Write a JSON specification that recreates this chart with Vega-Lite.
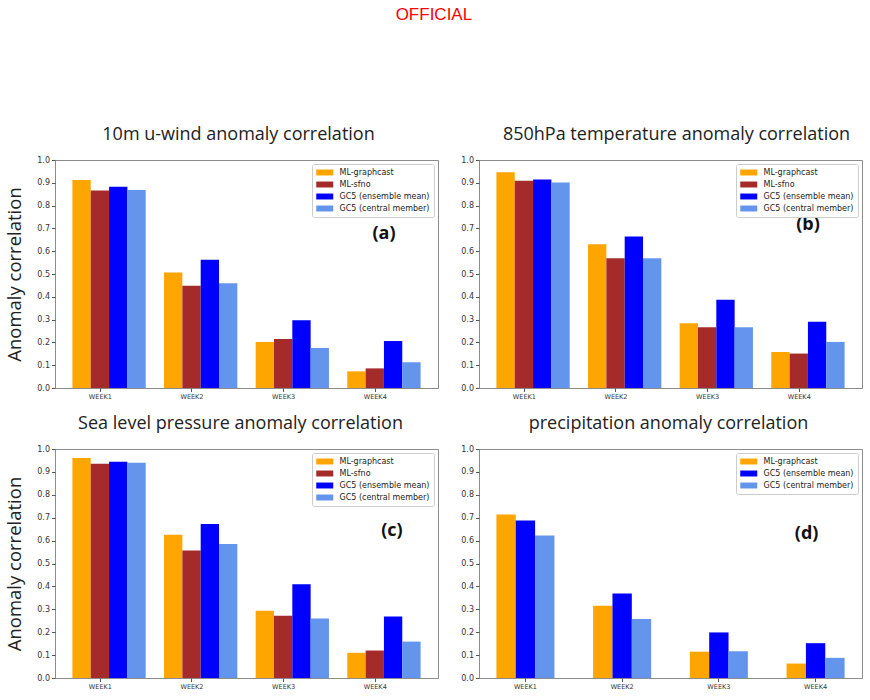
{
  "$schema": "https://vega.github.io/schema/vega-lite/v6.json",
  "background": "white",
  "padding": {"left": 5, "top": 5, "right": 5, "bottom": 5},
  "title": {"text": "OFFICIAL", "color": "#ff0000", "fontSize": 17, "font": "Liberation Sans", "fontWeight": "normal", "anchor": "middle", "frame": "bounds", "offset": 102},
  "datasets": {
    "bars": [
      {"panel": "a", "week": "WEEK1", "model": "ML-graphcast", "value": 0.912},
      {"panel": "a", "week": "WEEK1", "model": "ML-sfno", "value": 0.866},
      {"panel": "a", "week": "WEEK1", "model": "GC5 (ensemble mean)", "value": 0.883},
      {"panel": "a", "week": "WEEK1", "model": "GC5 (central member)", "value": 0.868},
      {"panel": "a", "week": "WEEK2", "model": "ML-graphcast", "value": 0.507},
      {"panel": "a", "week": "WEEK2", "model": "ML-sfno", "value": 0.449},
      {"panel": "a", "week": "WEEK2", "model": "GC5 (ensemble mean)", "value": 0.563},
      {"panel": "a", "week": "WEEK2", "model": "GC5 (central member)", "value": 0.459},
      {"panel": "a", "week": "WEEK3", "model": "ML-graphcast", "value": 0.202},
      {"panel": "a", "week": "WEEK3", "model": "ML-sfno", "value": 0.215},
      {"panel": "a", "week": "WEEK3", "model": "GC5 (ensemble mean)", "value": 0.297},
      {"panel": "a", "week": "WEEK3", "model": "GC5 (central member)", "value": 0.175},
      {"panel": "a", "week": "WEEK4", "model": "ML-graphcast", "value": 0.073},
      {"panel": "a", "week": "WEEK4", "model": "ML-sfno", "value": 0.086},
      {"panel": "a", "week": "WEEK4", "model": "GC5 (ensemble mean)", "value": 0.206},
      {"panel": "a", "week": "WEEK4", "model": "GC5 (central member)", "value": 0.113},
      {"panel": "b", "week": "WEEK1", "model": "ML-graphcast", "value": 0.946},
      {"panel": "b", "week": "WEEK1", "model": "ML-sfno", "value": 0.909},
      {"panel": "b", "week": "WEEK1", "model": "GC5 (ensemble mean)", "value": 0.914},
      {"panel": "b", "week": "WEEK1", "model": "GC5 (central member)", "value": 0.901},
      {"panel": "b", "week": "WEEK2", "model": "ML-graphcast", "value": 0.630},
      {"panel": "b", "week": "WEEK2", "model": "ML-sfno", "value": 0.569},
      {"panel": "b", "week": "WEEK2", "model": "GC5 (ensemble mean)", "value": 0.665},
      {"panel": "b", "week": "WEEK2", "model": "GC5 (central member)", "value": 0.569},
      {"panel": "b", "week": "WEEK3", "model": "ML-graphcast", "value": 0.284},
      {"panel": "b", "week": "WEEK3", "model": "ML-sfno", "value": 0.266},
      {"panel": "b", "week": "WEEK3", "model": "GC5 (ensemble mean)", "value": 0.387},
      {"panel": "b", "week": "WEEK3", "model": "GC5 (central member)", "value": 0.266},
      {"panel": "b", "week": "WEEK4", "model": "ML-graphcast", "value": 0.158},
      {"panel": "b", "week": "WEEK4", "model": "ML-sfno", "value": 0.151},
      {"panel": "b", "week": "WEEK4", "model": "GC5 (ensemble mean)", "value": 0.291},
      {"panel": "b", "week": "WEEK4", "model": "GC5 (central member)", "value": 0.202},
      {"panel": "c", "week": "WEEK1", "model": "ML-graphcast", "value": 0.961},
      {"panel": "c", "week": "WEEK1", "model": "ML-sfno", "value": 0.936},
      {"panel": "c", "week": "WEEK1", "model": "GC5 (ensemble mean)", "value": 0.944},
      {"panel": "c", "week": "WEEK1", "model": "GC5 (central member)", "value": 0.940},
      {"panel": "c", "week": "WEEK2", "model": "ML-graphcast", "value": 0.626},
      {"panel": "c", "week": "WEEK2", "model": "ML-sfno", "value": 0.557},
      {"panel": "c", "week": "WEEK2", "model": "GC5 (ensemble mean)", "value": 0.673},
      {"panel": "c", "week": "WEEK2", "model": "GC5 (central member)", "value": 0.585},
      {"panel": "c", "week": "WEEK3", "model": "ML-graphcast", "value": 0.294},
      {"panel": "c", "week": "WEEK3", "model": "ML-sfno", "value": 0.272},
      {"panel": "c", "week": "WEEK3", "model": "GC5 (ensemble mean)", "value": 0.409},
      {"panel": "c", "week": "WEEK3", "model": "GC5 (central member)", "value": 0.260},
      {"panel": "c", "week": "WEEK4", "model": "ML-graphcast", "value": 0.110},
      {"panel": "c", "week": "WEEK4", "model": "ML-sfno", "value": 0.120},
      {"panel": "c", "week": "WEEK4", "model": "GC5 (ensemble mean)", "value": 0.269},
      {"panel": "c", "week": "WEEK4", "model": "GC5 (central member)", "value": 0.159},
      {"panel": "d", "week": "WEEK1", "model": "ML-graphcast", "value": 0.714},
      {"panel": "d", "week": "WEEK1", "model": "GC5 (ensemble mean)", "value": 0.688},
      {"panel": "d", "week": "WEEK1", "model": "GC5 (central member)", "value": 0.622},
      {"panel": "d", "week": "WEEK2", "model": "ML-graphcast", "value": 0.315},
      {"panel": "d", "week": "WEEK2", "model": "GC5 (ensemble mean)", "value": 0.369},
      {"panel": "d", "week": "WEEK2", "model": "GC5 (central member)", "value": 0.258},
      {"panel": "d", "week": "WEEK3", "model": "ML-graphcast", "value": 0.115},
      {"panel": "d", "week": "WEEK3", "model": "GC5 (ensemble mean)", "value": 0.199},
      {"panel": "d", "week": "WEEK3", "model": "GC5 (central member)", "value": 0.117},
      {"panel": "d", "week": "WEEK4", "model": "ML-graphcast", "value": 0.063},
      {"panel": "d", "week": "WEEK4", "model": "GC5 (ensemble mean)", "value": 0.152},
      {"panel": "d", "week": "WEEK4", "model": "GC5 (central member)", "value": 0.088}
    ]
  },
  "config": {
    "view": {"stroke": "#8c8c8c", "strokeWidth": 1},
    "axis": {"grid": false, "domain": false, "labelOverlap": false, "labelFont": "DejaVu Sans", "labelFontSize": 8, "labelColor": "#333333", "tickColor": "#555555", "tickSize": 3.5, "labelPadding": 2, "titleFont": "Open Sans", "titleFontSize": 18.5, "titleFontWeight": "normal", "titleColor": "#222222"},
    "axisY": {"labelOverlap": false, "tickCount": 11, "values": [0, 0.1, 0.2, 0.3, 0.4, 0.5, 0.6, 0.7, 0.8, 0.9, 1.0], "format": ".1f"},
    "title": {"font": "Open Sans", "fontSize": 18, "fontWeight": "normal", "color": "#222222", "anchor": "middle", "frame": "group", "offset": 12},
    "legend": {"orient": "top-right", "offset": 4, "padding": 4, "strokeColor": "#cccccc", "fillColor": "white", "cornerRadius": 2, "labelFont": "DejaVu Sans", "labelFontSize": 8, "labelColor": "#222222", "symbolType": "M-1,-0.7L3,-0.7L3,0.7L-1,0.7Z", "symbolSize": 72.25, "symbolStrokeWidth": 0, "symbolOpacity": 1, "rowPadding": 3, "labelOffset": 14.5}
  },
  "resolve": {"scale": {"color": "independent", "xOffset": "independent"}, "legend": {"color": "independent"}},
  "spacing": 13,
  "vconcat": [
    {
      "spacing": 21,
      "resolve": {"scale": {"color": "independent", "xOffset": "independent"}, "legend": {"color": "independent"}},
      "hconcat": [
        {
          "width": 383, "height": 228,
          "title": {"text": "10m u-wind anomaly correlation", "dx": -8},
          "layer": [
            {
              "data": {"name": "bars"},
              "transform": [{"filter": "datum.panel == 'a'"}],
              "mark": {"type": "bar"},
              "encoding": {
                "x": {"field": "week", "type": "nominal", "sort": ["WEEK1", "WEEK2", "WEEK3", "WEEK4"], "scale": {"paddingInner": 0.2, "paddingOuter": 0.19}, "axis": {"title": null, "labelAngle": 0, "labelFontSize": 6.5, "tickOffset": -9.2}},
                "xOffset": {"field": "model", "type": "nominal", "sort": ["ML-graphcast", "ML-sfno", "GC5 (ensemble mean)", "GC5 (central member)"], "scale": {"paddingInner": 0, "paddingOuter": 0}},
                "y": {"field": "value", "type": "quantitative", "scale": {"domain": [0, 1], "nice": false}, "axis": {"title": "Anomaly correlation", "titlePadding": 12, "labelOverlap": false, "values": [0, 0.1, 0.2, 0.3, 0.4, 0.5, 0.6, 0.7, 0.8, 0.9, 1.0], "format": ".1f"}},
                "color": {"field": "model", "type": "nominal", "scale": {"domain": ["ML-graphcast", "ML-sfno", "GC5 (ensemble mean)", "GC5 (central member)"], "range": ["#FFA500", "#A52A2A", "#0000FF", "#6495ED"]}, "legend": {"title": null}}
              }
            },
            {
              "data": {"values": [{"label": "(a)"}]},
              "mark": {"type": "text", "fontSize": 18, "fontWeight": "bold", "font": "Open Sans", "color": "#111111"},
              "encoding": {"x": {"datum": "WEEK4"}, "y": {"datum": 0.675, "axis": {"title": "Anomaly correlation", "titlePadding": 12, "labelOverlap": false, "values": [0, 0.1, 0.2, 0.3, 0.4, 0.5, 0.6, 0.7, 0.8, 0.9, 1.0], "format": ".1f"}}, "text": {"field": "label"}}
            }
          ]
        },
        {
          "width": 383, "height": 228,
          "title": {"text": "850hPa temperature anomaly correlation", "dx": 6},
          "layer": [
            {
              "data": {"name": "bars"},
              "transform": [{"filter": "datum.panel == 'b'"}],
              "mark": {"type": "bar"},
              "encoding": {
                "x": {"field": "week", "type": "nominal", "sort": ["WEEK1", "WEEK2", "WEEK3", "WEEK4"], "scale": {"paddingInner": 0.2, "paddingOuter": 0.19}, "axis": {"title": null, "labelAngle": 0, "labelFontSize": 6.5, "tickOffset": -9.2}},
                "xOffset": {"field": "model", "type": "nominal", "sort": ["ML-graphcast", "ML-sfno", "GC5 (ensemble mean)", "GC5 (central member)"], "scale": {"paddingInner": 0, "paddingOuter": 0}},
                "y": {"field": "value", "type": "quantitative", "scale": {"domain": [0, 1], "nice": false}, "axis": {"title": null, "labelOverlap": false, "values": [0, 0.1, 0.2, 0.3, 0.4, 0.5, 0.6, 0.7, 0.8, 0.9, 1.0], "format": ".1f"}},
                "color": {"field": "model", "type": "nominal", "scale": {"domain": ["ML-graphcast", "ML-sfno", "GC5 (ensemble mean)", "GC5 (central member)"], "range": ["#FFA500", "#A52A2A", "#0000FF", "#6495ED"]}, "legend": {"title": null}}
              }
            },
            {
              "data": {"values": [{"label": "(b)"}]},
              "mark": {"type": "text", "fontSize": 18, "fontWeight": "bold", "font": "Open Sans", "color": "#111111"},
              "encoding": {"x": {"datum": "WEEK4"}, "y": {"datum": 0.715, "axis": {"title": null, "labelOverlap": false, "values": [0, 0.1, 0.2, 0.3, 0.4, 0.5, 0.6, 0.7, 0.8, 0.9, 1.0], "format": ".1f"}}, "text": {"field": "label"}}
            }
          ]
        }
      ]
    },
    {
      "spacing": 21,
      "resolve": {"scale": {"color": "independent", "xOffset": "independent"}, "legend": {"color": "independent"}},
      "hconcat": [
        {
          "width": 383, "height": 229,
          "title": {"text": "Sea level pressure anomaly correlation", "dx": -6},
          "layer": [
            {
              "data": {"name": "bars"},
              "transform": [{"filter": "datum.panel == 'c'"}],
              "mark": {"type": "bar"},
              "encoding": {
                "x": {"field": "week", "type": "nominal", "sort": ["WEEK1", "WEEK2", "WEEK3", "WEEK4"], "scale": {"paddingInner": 0.2, "paddingOuter": 0.19}, "axis": {"title": null, "labelAngle": 0, "labelFontSize": 6.5, "tickOffset": -9.2}},
                "xOffset": {"field": "model", "type": "nominal", "sort": ["ML-graphcast", "ML-sfno", "GC5 (ensemble mean)", "GC5 (central member)"], "scale": {"paddingInner": 0, "paddingOuter": 0}},
                "y": {"field": "value", "type": "quantitative", "scale": {"domain": [0, 1], "nice": false}, "axis": {"title": "Anomaly correlation", "titlePadding": 12, "labelOverlap": false, "values": [0, 0.1, 0.2, 0.3, 0.4, 0.5, 0.6, 0.7, 0.8, 0.9, 1.0], "format": ".1f"}},
                "color": {"field": "model", "type": "nominal", "scale": {"domain": ["ML-graphcast", "ML-sfno", "GC5 (ensemble mean)", "GC5 (central member)"], "range": ["#FFA500", "#A52A2A", "#0000FF", "#6495ED"]}, "legend": {"title": null}}
              }
            },
            {
              "data": {"values": [{"label": "(c)"}]},
              "mark": {"type": "text", "fontSize": 18, "fontWeight": "bold", "font": "Open Sans", "color": "#111111", "dx": 8},
              "encoding": {"x": {"datum": "WEEK4"}, "y": {"datum": 0.64, "axis": {"title": "Anomaly correlation", "titlePadding": 12, "labelOverlap": false, "values": [0, 0.1, 0.2, 0.3, 0.4, 0.5, 0.6, 0.7, 0.8, 0.9, 1.0], "format": ".1f"}}, "text": {"field": "label"}}
            }
          ]
        },
        {
          "width": 383, "height": 229,
          "title": {"text": "precipitation anomaly correlation", "dx": -2},
          "layer": [
            {
              "data": {"name": "bars"},
              "transform": [{"filter": "datum.panel == 'd'"}],
              "mark": {"type": "bar"},
              "encoding": {
                "x": {"field": "week", "type": "nominal", "sort": ["WEEK1", "WEEK2", "WEEK3", "WEEK4"], "scale": {"paddingInner": 0.4, "paddingOuter": 0.18}, "axis": {"title": null, "labelAngle": 0, "labelFontSize": 6.5}},
                "xOffset": {"field": "model", "type": "nominal", "sort": ["ML-graphcast", "GC5 (ensemble mean)", "GC5 (central member)"], "scale": {"paddingInner": 0, "paddingOuter": 0}},
                "y": {"field": "value", "type": "quantitative", "scale": {"domain": [0, 1], "nice": false}, "axis": {"title": null, "labelOverlap": false, "values": [0, 0.1, 0.2, 0.3, 0.4, 0.5, 0.6, 0.7, 0.8, 0.9, 1.0], "format": ".1f"}},
                "color": {"field": "model", "type": "nominal", "scale": {"domain": ["ML-graphcast", "GC5 (ensemble mean)", "GC5 (central member)"], "range": ["#FFA500", "#0000FF", "#6495ED"]}, "legend": {"title": null}}
              }
            },
            {
              "data": {"values": [{"label": "(d)"}]},
              "mark": {"type": "text", "fontSize": 18, "fontWeight": "bold", "font": "Open Sans", "color": "#111111", "dx": -9},
              "encoding": {"x": {"datum": "WEEK4"}, "y": {"datum": 0.63, "axis": {"title": null, "labelOverlap": false, "values": [0, 0.1, 0.2, 0.3, 0.4, 0.5, 0.6, 0.7, 0.8, 0.9, 1.0], "format": ".1f"}}, "text": {"field": "label"}}
            }
          ]
        }
      ]
    }
  ]
}
